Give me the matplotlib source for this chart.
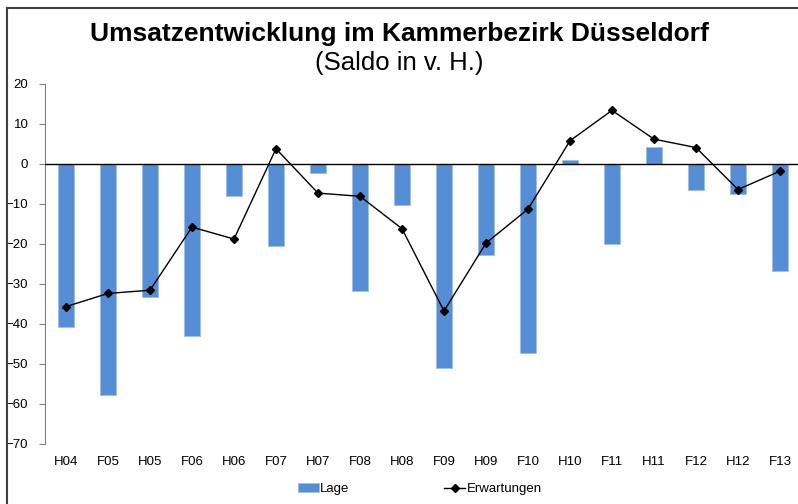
import numpy as np
import matplotlib.pyplot as plt
from matplotlib.lines import Line2D

# data
perioden = ['H04', 'F05', 'H05', 'F06', 'H06', 'F07', 'H07', 'F08', 'H08',
            'F09', 'H09', 'F10', 'H10', 'F11', 'H11', 'F12', 'H12', 'F13']
lage = [-40.8, -57.7, -33.3, -43.0, -7.9, -20.6, -2.3, -31.7, -10.3,
        -51.1, -22.7, -47.4, 1.1, -20.0, 4.3, -6.4, -7.4, -26.7]
erwartungen = [-35.7, -32.4, -31.6, -15.8, -18.8, 3.8, -7.3, -8.1, -16.2,
               -36.8, -19.8, -11.3, 5.8, 13.4, 6.2, 4.1, -6.4, -1.8]
yticks = list(range(-70, 21, 10))

plt.rcParams['font.family'] = ['Liberation Sans', 'DejaVu Sans']

fig = plt.figure(figsize=(7.98, 5.04), dpi=100)
ax = fig.add_axes([45 / 798, 60.3 / 504, 756 / 798, 359.7 / 504])

x = np.arange(len(perioden))
bars = ax.bar(x, lage, width=0.4, color='#558ED5', edgecolor='#9DBFE8',
              linewidth=0.6, label='Lage', zorder=2)
line, = ax.plot(x, erwartungen, color='black', linewidth=1.0, marker='D',
                markersize=4, label='Erwartungen', zorder=4)
ax.axhline(0, color='black', linewidth=1.0, zorder=3)

ax.set_xlim(-0.5, len(perioden) - 0.5)
ax.set_ylim(-70, 20)
ax.set_yticks(yticks)
ax.set_xticks(x)
ax.set_xticklabels(perioden)
for s in ['top', 'right', 'bottom']:
    ax.spines[s].set_visible(False)
ax.spines['left'].set_color('#7f7f7f')
ax.tick_params(axis='y', length=4, color='#7f7f7f', labelsize=9.5, pad=8)
ax.tick_params(axis='x', length=0, labelsize=9.5, pad=9)

fig.text(0.5, 1 - 34 / 504, 'Umsatzentwicklung im Kammerbezirk Düsseldorf',
         ha='center', va='center', fontsize=19, fontweight='bold')
fig.text(0.5, 1 - 63 / 504, '(Saldo in v. H.)', ha='center', va='center',
         fontsize=18.5)

fig.legend([bars, line], ['Lage', 'Erwartungen'], loc='center',
           bbox_to_anchor=(0.526, 1 - 489 / 504), ncol=2,
           frameon=False, fontsize=9.5, handlelength=1.6, handletextpad=0.1,
           columnspacing=7.2)

# outer frame
fig.add_artist(Line2D([7 / 798, 7 / 798], [0, 1 - 8 / 504],
                      transform=fig.transFigure, color='#404040', linewidth=1.5))
fig.add_artist(Line2D([7 / 798, 1], [1 - 8 / 504, 1 - 8 / 504],
                      transform=fig.transFigure, color='#404040', linewidth=1.5))

fig.savefig('out.png', dpi=100)
